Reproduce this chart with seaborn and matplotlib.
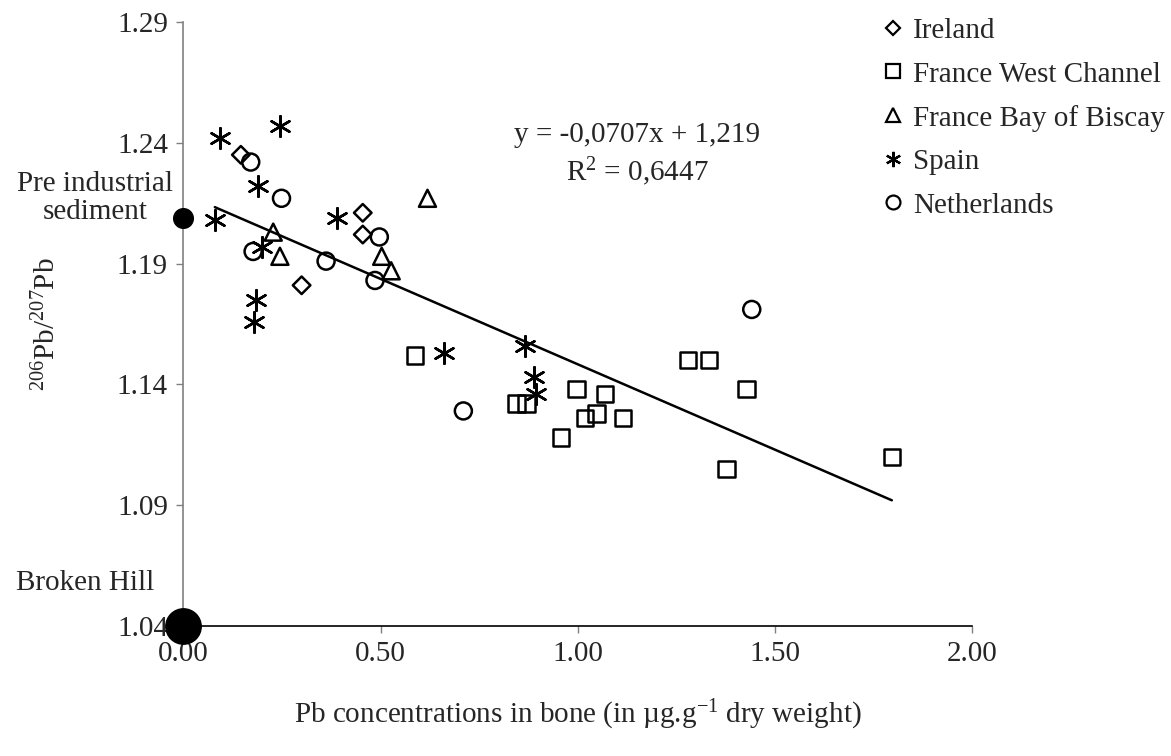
import numpy as np
import pandas as pd
import matplotlib
matplotlib.use("Agg")
import matplotlib.pyplot as plt
from matplotlib.lines import Line2D
import seaborn as sns

# values
ireland_x = [0.146, 0.455, 0.455, 0.300]
ireland_y = [1.235, 1.211, 1.202, 1.181]

france_wc_x = [0.587, 0.845, 0.870, 0.957, 0.997, 1.018, 1.048, 1.069, 1.114,
               1.279, 1.333, 1.377, 1.428, 1.796]
france_wc_y = [1.152, 1.132, 1.132, 1.118, 1.138, 1.126, 1.128, 1.136, 1.126,
               1.150, 1.150, 1.105, 1.138, 1.110]

biscay_x = [0.228, 0.245, 0.503, 0.527, 0.619]
biscay_y = [1.203, 1.193, 1.193, 1.187, 1.217]

spain_x = [0.080, 0.092, 0.179, 0.184, 0.190, 0.199, 0.245, 0.389, 0.661,
           0.866, 0.890, 0.894]
spain_y = [1.208, 1.242, 1.166, 1.175, 1.222, 1.197, 1.247, 1.209, 1.153,
           1.156, 1.143, 1.136]

nl_x = [0.171, 0.177, 0.249, 0.362, 0.486, 0.497, 0.710, 1.441]
nl_y = [1.232, 1.195, 1.217, 1.191, 1.183, 1.201, 1.129, 1.171]

regions = ["Ireland", "France West Channel", "France Bay of Biscay", "Spain", "Netherlands"]

# reference end-members
pre_industrial = 1.209
broken_hill = 1.04

# trend line given on the chart
slope = -0.0707
intercept = 1.219

x_ticks = [0.0, 0.5, 1.0, 1.5, 2.0]
y_ticks = [1.04, 1.09, 1.14, 1.19, 1.24, 1.29]

FONT = "Liberation Serif"
FS = 21


def build_frame():
    parts = [
        ("Ireland", ireland_x, ireland_y),
        ("France West Channel", france_wc_x, france_wc_y),
        ("France Bay of Biscay", biscay_x, biscay_y),
        ("Spain", spain_x, spain_y),
        ("Netherlands", nl_x, nl_y),
    ]
    rows = []
    for name, xs, ys in parts:
        for x, y in zip(xs, ys):
            rows.append({"region": name, "pb": x, "ratio": y})
    return pd.DataFrame(rows)


# marker style for each group (asterisk is line-art, so it gets a colour not an edge)
STYLES = {
    "Ireland": dict(marker="D", s=80),
    "France West Channel": dict(marker="s", s=140),
    "France Bay of Biscay": dict(marker="^", s=150),
    "Spain": dict(marker=(6, 2, 0), s=220),
    "Netherlands": dict(marker="o", s=150),
}


def main():
    sns.set_theme(style="white")
    plt.rcParams["font.family"] = [FONT, "DejaVu Serif"]
    plt.rcParams["mathtext.default"] = "regular"

    df = build_frame()

    fig = plt.figure(figsize=(11.71, 7.56), dpi=100)
    ax = fig.add_axes([0.1565, 0.172, 0.6738, 0.799])

    for name in regions:
        sub = df[df["region"] == name]
        st = STYLES[name]
        if name == "Spain":
            sns.scatterplot(data=sub, x="pb", y="ratio", ax=ax, marker=st["marker"],
                            s=st["s"], color="black", linewidth=1.8, zorder=3)
        else:
            sns.scatterplot(data=sub, x="pb", y="ratio", ax=ax, marker=st["marker"],
                            s=st["s"], facecolor="none", edgecolor="black",
                            linewidth=1.8, zorder=3)

    # trend line over the data range
    line_x = np.array([df["pb"].min(), df["pb"].max()])
    line_df = pd.DataFrame({"pb": line_x, "ratio": slope * line_x + intercept})
    sns.lineplot(data=line_df, x="pb", y="ratio", ax=ax, color="black", linewidth=1.8)

    # end-member dots on the y axis
    ax.scatter([0], [pre_industrial], s=200, color="black", zorder=5, clip_on=False)
    ax.scatter([0], [broken_hill], s=650, color="black", zorder=5, clip_on=False)
    ax.text(-0.224, 1.217, "Pre industrial\nsediment", ha="center", va="center",
            multialignment="center", fontsize=FS, linespacing=1.1)
    ax.text(-0.249, 1.0578, "Broken Hill", ha="center", va="center", fontsize=FS)

    ax.text(1.15, 1.243, "y = -0,0707x + 1,219", ha="center", va="center", fontsize=FS)
    ax.text(1.15, 1.228, "R$^2$ = 0,6447", ha="center", va="center", fontsize=FS)

    ax.set_xlim(0, 2.0)
    ax.set_ylim(1.04, 1.29)
    ax.set_xticks(x_ticks)
    ax.set_xticklabels([f"{v:.2f}" for v in x_ticks])
    ax.set_yticks(y_ticks)
    ax.set_yticklabels([f"{v:.2f}" for v in y_ticks])
    ax.tick_params(axis="both", direction="out", length=5, width=1, labelsize=FS,
                   color="#808080", pad=6, bottom=True, left=True)

    for side in ["top", "right"]:
        ax.spines[side].set_visible(False)
    ax.spines["left"].set_color("#808080")
    ax.spines["bottom"].set_color("black")
    for side in ["left", "bottom"]:
        ax.spines[side].set_linewidth(1.2)

    ax.set_xlabel("Pb concentrations in bone (in µg.g$^{-1}$ dry weight)", fontsize=FS,
                  labelpad=22)
    ax.set_ylabel("$^{206}$Pb/$^{207}$Pb", fontsize=FS, labelpad=40)
    ax.grid(False)

    handles = []
    for name in regions:
        st = STYLES[name]
        if name == "Spain":
            h = Line2D([], [], linestyle="none", marker=st["marker"], markersize=11,
                       color="black", markeredgewidth=1.6)
        else:
            h = Line2D([], [], linestyle="none", marker=st["marker"],
                       markersize=7 if name == "Ireland" else 10,
                       markerfacecolor="none", markeredgecolor="black",
                       markeredgewidth=1.6)
        handles.append(h)
    fig.legend(handles, regions, loc="upper left", bbox_to_anchor=(0.745, 0.992),
               frameon=False, fontsize=FS, handlelength=0.6, handletextpad=0.4,
               labelspacing=0.585, borderaxespad=0)

    fig.savefig("out.png", dpi=100)
    plt.close(fig)


if __name__ == "__main__":
    main()
